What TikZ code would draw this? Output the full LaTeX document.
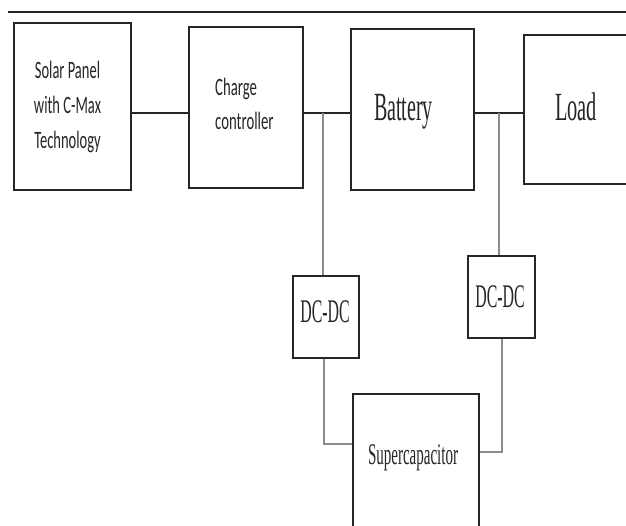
\documentclass[tikz,border=0pt]{standalone}
\usepackage{fontspec}
\newfontfamily\serifc{Liberation Serif}
\newfontfamily\sansc{Carlito}
\newcommand{\sqz}[2][0.5]{\scalebox{#1}[1]{#2}}
\tikzset{
  box/.style={draw=black!85, line width=1.6pt, inner sep=0pt, anchor=north west, fill=white},
  wire/.style={draw=black!85, line width=1.4pt},
  gwire/.style={draw=black!45, line width=1.4pt},
  topline/.style={draw=black!85, line width=2.4pt},
  lbl/.style={inner sep=0pt, anchor=base, text=black!85},
}
\begin{document}
\begin{tikzpicture}[x=1pt,y=-1pt]
\useasboundingbox (0,0) rectangle (626,525);
\clip (0,0) rectangle (626,525);
\fill[white] (0,0) rectangle (626,525);
% top rule
\draw[topline] (8,12) -- (626,12);
% boxes
\node[box, minimum width=117pt, minimum height=167pt] (solar) at (13,22) {};
\node[box, minimum width=114pt, minimum height=161pt] (cc) at (188,26) {};
\node[box, minimum width=123pt, minimum height=161pt] (bat) at (350,28) {};
\node[box, minimum width=117pt, minimum height=149pt] (load) at (523,34) {};
\node[box, minimum width=66pt, minimum height=82pt] (dc1) at (292,275) {};
\node[box, minimum width=67pt, minimum height=82pt] (dc2) at (467,255) {};
\node[box, minimum width=126pt, minimum height=150pt] (sup) at (352,393) {};
% labels
\node[lbl] (solart) at (67.5,78) {\sansc\fontsize{25}{35}\selectfont\sqz[0.58]{\begin{tabular}[t]{@{}c@{}}Solar Panel\\with C-Max\\Technology\end{tabular}}};
\node[lbl, anchor=base west] (cct) at (215,95) {\sansc\fontsize{25}{34}\selectfont\sqz[0.59]{\begin{tabular}[t]{@{}l@{}}Charge\\controller\end{tabular}}};
\node[lbl] (batt) at (403.5,120) {\serifc\fontsize{40}{44}\selectfont\sqz[0.5]{Battery}};
\node[lbl] (loadt) at (576,120) {\serifc\fontsize{40}{44}\selectfont\sqz[0.51]{Load}};
\node[lbl] (dc1t) at (325,322) {\serifc\fontsize{33}{36}\selectfont\sqz[0.48]{DC-DC}};
\node[lbl] (dc2t) at (500,307) {\serifc\fontsize{33}{36}\selectfont\sqz[0.48]{DC-DC}};
\node[lbl] (supt) at (413,464) {\serifc\fontsize{30}{34}\selectfont\sqz[0.5]{Supercapacitor}};
% junctions
\coordinate (j1) at (323,113);
\coordinate (j2) at (499,113);
\coordinate (k1) at (324,444);
\coordinate (k2) at (502,452);
% connectors
\draw[wire] (solar.east |- j1) -- (cc.west |- j1);
\draw[wire] (cc.east |- j1) -- (bat.west |- j1);
\draw[wire] (bat.east |- j2) -- (load.west |- j2);
\draw[gwire] (j1) -- (j1 |- dc1.north);
\draw[gwire] (j2) -- (j2 |- dc2.north);
\draw[gwire] (k1 |- dc1.south) -- (k1) -- (sup.west |- k1);
\draw[gwire] (k2 |- dc2.south) -- (k2) -- (sup.east |- k2);
\end{tikzpicture}
\end{document}
